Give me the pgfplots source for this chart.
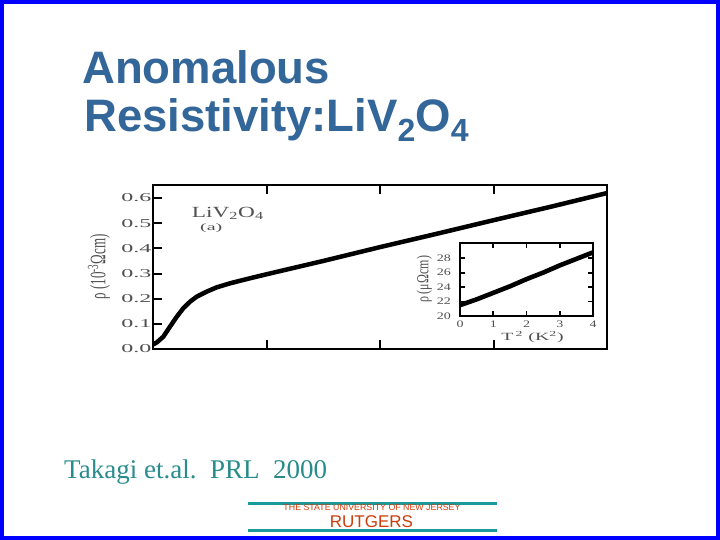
\documentclass[border=0pt]{standalone}
\usepackage{fontspec}
\setmainfont{Liberation Serif}
\newfontfamily\sansf{Liberation Sans}
\usepackage{pgfplots}
\pgfplotsset{compat=1.18}
\definecolor{titleblue}{RGB}{51,102,153}
\definecolor{tealtxt}{RGB}{41,140,140}
\definecolor{rteal}{RGB}{26,154,154}
\definecolor{rred}{RGB}{204,60,10}
\definecolor{figgray}{RGB}{80,80,80}
\newcommand{\mtl}[1]{\scalebox{2.0}[1]{\fontsize{12}{12}\selectfont #1}}
\newcommand{\itl}[1]{\scalebox{1.4}[1]{\fontsize{10}{10}\selectfont #1}}

\begin{document}
\begin{tikzpicture}[x=1pt,y=1pt]
\useasboundingbox (0,0) rectangle (720,540);
\fill[white] (0,0) rectangle (720,540);

% title
\node[anchor=base west,inner sep=0,text=titleblue,font={\sansf\bfseries\fontsize{45.5}{46}\selectfont}] at (82,456.7) {Anomalous};
\node[anchor=base west,inner sep=0,text=titleblue,font={\sansf\bfseries\fontsize{45.5}{46}\selectfont}] at (84,408.3)
 {Resistivity:LiV\raisebox{-10pt}{\fontsize{32}{32}\selectfont 2}O\raisebox{-10pt}{\fontsize{32}{32}\selectfont 4}};

% main panel
\begin{axis}[at={(153pt,191pt)},anchor=south west,scale only axis,
 width=454pt,height=164pt,
 xmin=0,xmax=400,ymin=0,ymax=0.652,
 xtick={0,100,200,300,400},xticklabels={\empty,\empty,\empty,\empty,\empty},
 ytick={0,0.1,0.2,0.3,0.4,0.5,0.6},ytick pos=left,
 yticklabels={\mtl{0.0},\mtl{0.1},\mtl{0.2},\mtl{0.3},\mtl{0.4},\mtl{0.5},\mtl{0.6}},
 yticklabel style={text=figgray,inner sep=0pt,anchor=east,xshift=-1.5pt},
 tick align=inside,major tick length=9pt,
 tick style={black,line width=2pt},
 axis line style={line width=2.6pt},
 ylabel={\scalebox{1}[1.7]{\fontsize{13}{13}\selectfont ρ (10\textsuperscript{-3}Ωcm)}},
 ylabel style={at={(axis description cs:-0.094,0.5)},anchor=south,text=figgray,inner sep=0pt}]
\addplot[black,line width=4.5pt,line join=round] coordinates {
 (0,0.018) (3.3,0.026) (9.1,0.049) (15,0.089) (20.9,0.128) (26.7,0.162)
 (32.6,0.188) (38.5,0.208) (47.3,0.228) (56.1,0.245) (67.8,0.261)
 (82.6,0.278) (100,0.297) (150,0.350) (200,0.405) (250,0.458)
 (300,0.512) (350,0.565) (400,0.620)};
\end{axis}

\node[anchor=base west,inner sep=0,text=figgray] at (191.7,322.3)
 {\scalebox{1.5}[1]{\fontsize{15.5}{15.5}\selectfont LiV\textsubscript{2}O\textsubscript{4}}};
\node[anchor=base west,inner sep=0,text=figgray] at (200,309)
 {\scalebox{2}[1]{\fontsize{10}{10}\selectfont (a)}};

% inset
\begin{axis}[at={(460pt,224pt)},anchor=south west,scale only axis,
 width=133pt,height=73pt,
 xmin=0,xmax=4,ymin=20,ymax=30.1,
 xtick={0,1,2,3,4},ytick={20,22,24,26,28},
 xticklabels={\itl{0},\itl{1},\itl{2},\itl{3},\itl{4}},
 yticklabels={\itl{20},\itl{22},\itl{24},\itl{26},\itl{28}},
 yticklabel style={text=figgray,inner sep=0pt,anchor=east,xshift=-9pt},
 xticklabel style={text=figgray,inner sep=0pt,anchor=north,yshift=-5pt},
 tick align=inside,major tick length=5pt,
 tick style={black,line width=1.8pt},
 axis line style={line width=2.4pt},
 axis background/.style={fill=white},
 xlabel={\scalebox{1.8}[1]{\fontsize{11}{11}\selectfont T\textsuperscript{\,2} (K\textsuperscript{2})}},
 xlabel style={text=figgray,xshift=6pt},
 ylabel={\scalebox{1}[1.4]{\fontsize{12}{12}\selectfont ρ (μΩcm)}},
 ylabel style={at={(axis description cs:-0.21,0.5)},anchor=south,text=figgray,inner sep=0pt}]
\addplot[black,line width=4.6pt] coordinates {
 (0,21.5) (0.5,22.3) (1,23.2) (1.5,24.1) (2,25.1) (2.5,26.0) (3,27.0) (3.5,27.9) (4,28.8)};
\end{axis}

% footer
\node[anchor=base west,inner sep=0,text=tealtxt,font={\fontsize{27}{27}\selectfont}] at (64,61) {Takagi et.al.\ \ PRL\ \ 2000};
\draw[rteal,line width=3pt] (248,36.2) -- (497,36.2);
\draw[rteal,line width=3pt] (248,9.2) -- (497,9.2);
\node[inner sep=0,text=rred,font={\sansf\fontsize{6.5}{6.5}\selectfont}] at (372,32.5) {\resizebox{177pt}{!}{THE STATE UNIVERSITY OF NEW JERSEY}};
\node[anchor=base,inner sep=0,text=rred,font={\sansf\fontsize{17}{17}\selectfont}] at (371.5,12.7) {RUTGERS};

% slide border
\draw[blue,line width=4pt] (2,2) rectangle (718,538);
\end{tikzpicture}
\end{document}
